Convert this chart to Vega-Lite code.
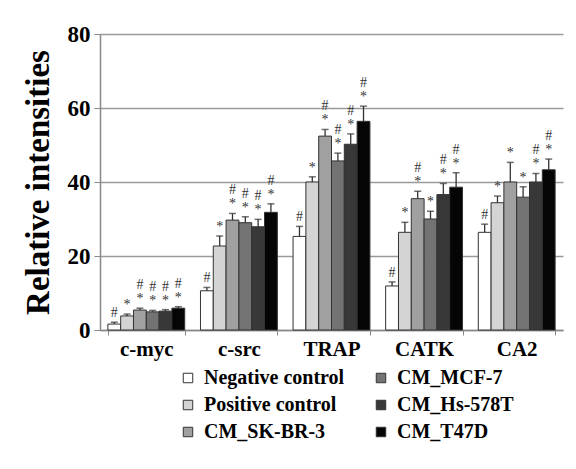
{
  "$schema": "https://vega.github.io/schema/vega-lite/v6.json",
  "autosize": "none",
  "width": 463,
  "height": 296,
  "padding": {"left": 100, "top": 34, "right": 13, "bottom": 139},
  "background": "white",
  "config": {
    "view": {"stroke": null},
    "font": "Liberation Serif"
  },
  "data": {
    "values": [
      {"gene": "c-myc", "group": "Negative control", "value": 1.6, "upper": 2.1, "lab1": "#", "lab2": ""},
      {"gene": "c-myc", "group": "Positive control", "value": 3.8, "upper": 4.3, "lab1": "*", "lab2": ""},
      {"gene": "c-myc", "group": "CM_SK-BR-3", "value": 5.4, "upper": 5.9, "lab1": "*", "lab2": "#"},
      {"gene": "c-myc", "group": "CM_MCF-7", "value": 4.9, "upper": 5.3, "lab1": "*", "lab2": "#"},
      {"gene": "c-myc", "group": "CM_Hs-578T", "value": 5.1, "upper": 5.5, "lab1": "*", "lab2": "#"},
      {"gene": "c-myc", "group": "CM_T47D", "value": 5.9, "upper": 6.3, "lab1": "*", "lab2": "#"},
      {"gene": "c-src", "group": "Negative control", "value": 10.6, "upper": 11.5, "lab1": "#", "lab2": ""},
      {"gene": "c-src", "group": "Positive control", "value": 22.7, "upper": 25.4, "lab1": "*", "lab2": ""},
      {"gene": "c-src", "group": "CM_SK-BR-3", "value": 29.7, "upper": 31.5, "lab1": "*", "lab2": "#"},
      {"gene": "c-src", "group": "CM_MCF-7", "value": 29.0, "upper": 30.6, "lab1": "*", "lab2": "#"},
      {"gene": "c-src", "group": "CM_Hs-578T", "value": 27.9, "upper": 29.9, "lab1": "*", "lab2": "#"},
      {"gene": "c-src", "group": "CM_T47D", "value": 31.8, "upper": 34.1, "lab1": "*", "lab2": "#"},
      {"gene": "TRAP", "group": "Negative control", "value": 25.3, "upper": 28.0, "lab1": "#", "lab2": ""},
      {"gene": "TRAP", "group": "Positive control", "value": 40.0, "upper": 41.4, "lab1": "*", "lab2": ""},
      {"gene": "TRAP", "group": "CM_SK-BR-3", "value": 52.4, "upper": 54.2, "lab1": "*", "lab2": "#"},
      {"gene": "TRAP", "group": "CM_MCF-7", "value": 45.7, "upper": 47.8, "lab1": "*", "lab2": "#"},
      {"gene": "TRAP", "group": "CM_Hs-578T", "value": 50.2, "upper": 53.0, "lab1": "*", "lab2": "#"},
      {"gene": "TRAP", "group": "CM_T47D", "value": 56.4, "upper": 60.5, "lab1": "*", "lab2": "#"},
      {"gene": "CATK", "group": "Negative control", "value": 11.9, "upper": 13.0, "lab1": "#", "lab2": ""},
      {"gene": "CATK", "group": "Positive control", "value": 26.4, "upper": 29.1, "lab1": "*", "lab2": ""},
      {"gene": "CATK", "group": "CM_SK-BR-3", "value": 35.5, "upper": 37.5, "lab1": "*", "lab2": "#"},
      {"gene": "CATK", "group": "CM_MCF-7", "value": 30.0, "upper": 32.1, "lab1": "*", "lab2": ""},
      {"gene": "CATK", "group": "CM_Hs-578T", "value": 36.6, "upper": 39.6, "lab1": "*", "lab2": "#"},
      {"gene": "CATK", "group": "CM_T47D", "value": 38.6, "upper": 42.5, "lab1": "*", "lab2": "#"},
      {"gene": "CA2", "group": "Negative control", "value": 26.4, "upper": 28.6, "lab1": "#", "lab2": ""},
      {"gene": "CA2", "group": "Positive control", "value": 34.4, "upper": 36.2, "lab1": "*", "lab2": ""},
      {"gene": "CA2", "group": "CM_SK-BR-3", "value": 40.0, "upper": 45.3, "lab1": "*", "lab2": ""},
      {"gene": "CA2", "group": "CM_MCF-7", "value": 35.9, "upper": 38.7, "lab1": "*", "lab2": ""},
      {"gene": "CA2", "group": "CM_Hs-578T", "value": 40.0, "upper": 42.3, "lab1": "*", "lab2": "#"},
      {"gene": "CA2", "group": "CM_T47D", "value": 43.3, "upper": 46.2, "lab1": "*", "lab2": "#"}
    ]
  },
  "encoding": {
    "x": {
      "field": "gene", "type": "nominal", "sort": null,
      "scale": {"paddingInner": 0.17, "paddingOuter": 0.085},
      "axis": {
        "title": null, "labelAngle": 0, "labelFont": "Liberation Serif", "labelFontWeight": "bold",
        "labelFontSize": 21, "labelColor": "black", "labelPadding": 3,
        "tickBand": "extent", "tickSize": 5, "tickColor": "#888", "domainColor": "#888", "domainWidth": 1.5
      }
    },
    "xOffset": {
      "field": "group", "type": "nominal",
      "sort": ["Negative control", "Positive control", "CM_SK-BR-3", "CM_MCF-7", "CM_Hs-578T", "CM_T47D"],
      "scale": {"paddingInner": 0, "paddingOuter": 0}
    }
  },
  "layer": [
    {
      "mark": {"type": "bar", "stroke": "#333", "strokeWidth": 1},
      "encoding": {
        "y": {
          "field": "value", "type": "quantitative",
          "scale": {"domain": [0, 80]},
          "axis": {
            "title": "Relative intensities", "titleFont": "Liberation Serif", "titleFontSize": 33,
            "titleFontWeight": "bold", "titleColor": "black", "titlePadding": 12,
            "values": [0, 20, 40, 60, 80],
            "labelFont": "Liberation Serif", "labelFontSize": 23, "labelFontWeight": "bold", "labelColor": "black",
            "labelPadding": 4, "tickSize": 6, "tickColor": "#888", "domainColor": "#888", "domainWidth": 1.5,
            "grid": true, "gridColor": "#9a9a9a", "gridWidth": 1.5
          }
        },
        "color": {
          "field": "group", "type": "nominal",
          "scale": {
            "domain": ["Negative control", "CM_MCF-7", "Positive control", "CM_Hs-578T", "CM_SK-BR-3", "CM_T47D"],
            "range": ["#ffffff", "#737373", "#d4d4d4", "#383838", "#a0a0a0", "#050505"]
          },
          "legend": {
            "title": null, "orient": "none", "legendX": 78, "legendY": 334, "direction": "horizontal", "columns": 2,
            "symbolType": "square", "symbolSize": 90, "symbolStrokeColor": "#333", "symbolStrokeWidth": 1,
            "labelFont": "Liberation Serif", "labelFontSize": 20, "labelFontWeight": "bold", "labelColor": "black",
            "labelOffset": 6, "rowPadding": 7, "columnPadding": 26, "gridAlign": "each"
          }
        }
      }
    },
    {
      "mark": {"type": "rule", "color": "#333", "strokeWidth": 1.3},
      "encoding": {"y": {"field": "value", "type": "quantitative"}, "y2": {"field": "upper"}}
    },
    {
      "mark": {"type": "tick", "color": "#333", "thickness": 1.5, "size": 7, "orient": "horizontal"},
      "encoding": {"y": {"field": "upper", "type": "quantitative"}}
    },
    {
      "mark": {"type": "text", "font": "Liberation Serif", "fontSize": 14, "fill": "#333", "baseline": "middle", "dy": -9},
      "encoding": {"y": {"field": "upper", "type": "quantitative"}, "text": {"field": "lab1"}}
    },
    {
      "mark": {"type": "text", "font": "Liberation Serif", "fontSize": 14, "fill": "#333", "baseline": "middle", "dy": -23},
      "encoding": {"y": {"field": "upper", "type": "quantitative"}, "text": {"field": "lab2"}}
    }
  ]
}
